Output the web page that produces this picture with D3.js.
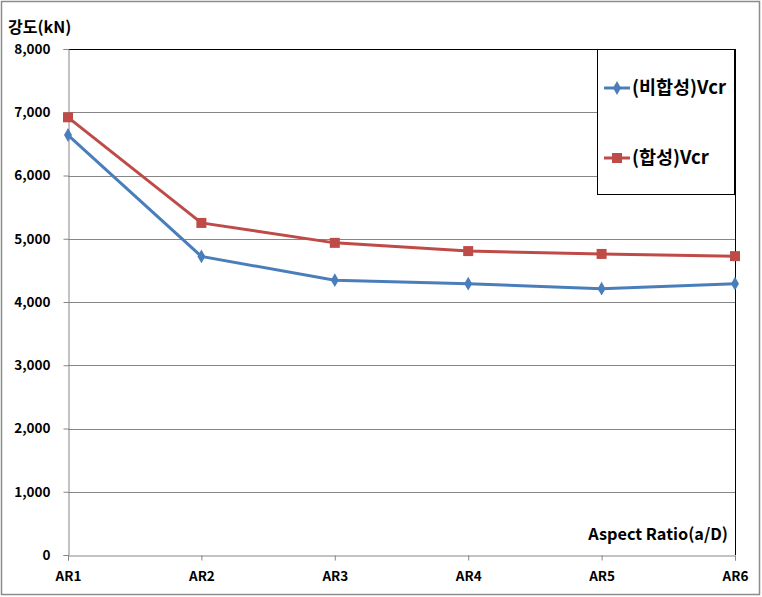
<!DOCTYPE html>
<html><head><meta charset="utf-8">
<script src="https://cdn.jsdelivr.net/npm/d3@7"></script>
<style>body{margin:0;background:#fff;} svg{display:block;}</style>
</head><body>
<script>
const categories = ["AR1","AR2","AR3","AR4","AR5","AR6"];
const nonComposite = [6640, 4720, 4345, 4290, 4210, 4290];
const composite = [6920, 5250, 4935, 4805, 4760, 4725];
const yTicks = [0,1000,2000,3000,4000,5000,6000,7000,8000];
const seriesNames = ["(비합성)Vcr","(합성)Vcr"];

const W=762,H=597;
const m={l:68,r:735,t:49,b:555};
const font="'Noto Sans CJK KR','Malgun Gothic',sans-serif";
const svg=d3.select("body").append("svg").attr("width",W).attr("height",H);
svg.append("rect").attr("x",1.5).attr("y",1.5).attr("width",W-4).attr("height",H-4).attr("fill","#fff").attr("stroke","#8c8c8c").attr("stroke-width",1.5);

const x=d3.scalePoint().domain(categories).range([m.l,m.r]).padding(0);
const y=d3.scaleLinear().domain([0,8000]).range([m.b,m.t]);

// gridlines
svg.append("g").selectAll("line").data(yTicks.filter(d=>d>0&&d<8000)).join("line")
  .attr("x1",m.l).attr("x2",m.r).attr("y1",d=>Math.round(y(d))+0.5).attr("y2",d=>Math.round(y(d))+0.5)
  .attr("stroke","#868686").attr("stroke-width",1);
// top & right border black
svg.append("line").attr("x1",m.l).attr("x2",m.r).attr("y1",m.t+0.5).attr("y2",m.t+0.5).attr("stroke","#000");
svg.append("line").attr("x1",m.r+0.5).attr("x2",m.r+0.5).attr("y1",m.t).attr("y2",m.b).attr("stroke","#000");

// y axis
const ya=svg.append("g").attr("transform",`translate(${m.l+0.5},0)`)
  .call(d3.axisLeft(y).tickValues(yTicks).tickSize(5).tickPadding(13).tickFormat(d3.format(",")));
ya.select(".domain").attr("stroke","#868686");
ya.selectAll(".tick line").attr("stroke","#868686");
ya.selectAll("text").attr("font-family",font).attr("font-weight","bold").attr("font-size",13.5).attr("fill","#000");

// x axis
const xa=svg.append("g").attr("transform",`translate(0,${m.b+0.5})`)
  .call(d3.axisBottom(x).tickSize(5).tickPadding(11));
xa.select(".domain").attr("stroke","#868686");
xa.selectAll(".tick line").attr("stroke","#868686");
xa.selectAll("text").attr("font-family",font).attr("font-weight","bold").attr("font-size",13.5).attr("fill","#000");

// labels
svg.append("text").attr("x",8).attr("y",33).text("강도(kN)")
  .attr("font-family",font).attr("font-weight","bold").attr("font-size",16).attr("fill","#000");
svg.append("text").attr("x",728).attr("y",540).attr("text-anchor","end").text("Aspect Ratio(a/D)")
  .attr("font-family",font).attr("font-weight","bold").attr("font-size",16.3).attr("fill","#000");

const colors=["#4A7EBB","#BE4B48"];
const line=d3.line().x((d,i)=>x(categories[i])).y(d=>y(d));
[nonComposite,composite].forEach((data,k)=>{
  svg.append("path").datum(data).attr("d",line).attr("fill","none").attr("stroke",colors[k]).attr("stroke-width",3);
});
// markers
svg.append("g").selectAll("path").data(nonComposite).join("path")
  .attr("d",d3.symbol(d3.symbolDiamond,55)()).attr("transform",(d,i)=>`translate(${x(categories[i])},${y(d)})`).attr("fill",colors[0]);
svg.append("g").selectAll("rect").data(composite).join("rect")
  .attr("x",(d,i)=>x(categories[i])-5).attr("y",d=>y(d)-5).attr("width",10).attr("height",10).attr("fill",colors[1]);

// legend
const lg=svg.append("g");
lg.append("rect").attr("x",597.5).attr("y",49.5).attr("width",137).attr("height",145).attr("fill","#fff").attr("stroke","#000");
const ly=[88,158];
seriesNames.forEach((n,k)=>{
  lg.append("line").attr("x1",604).attr("x2",630).attr("y1",ly[k]).attr("y2",ly[k]).attr("stroke",colors[k]).attr("stroke-width",3);
  if(k===0) lg.append("path").attr("d",d3.symbol(d3.symbolDiamond,55)()).attr("transform",`translate(617,${ly[k]})`).attr("fill",colors[0]);
  else lg.append("rect").attr("x",612).attr("y",ly[k]-5).attr("width",10).attr("height",10).attr("fill",colors[1]);
  lg.append("text").attr("x",632).attr("y",ly[k]+6).text(n).attr("font-family",font).attr("font-weight","bold").attr("font-size",18.5).attr("fill","#000");
});
</script>
</body></html>
